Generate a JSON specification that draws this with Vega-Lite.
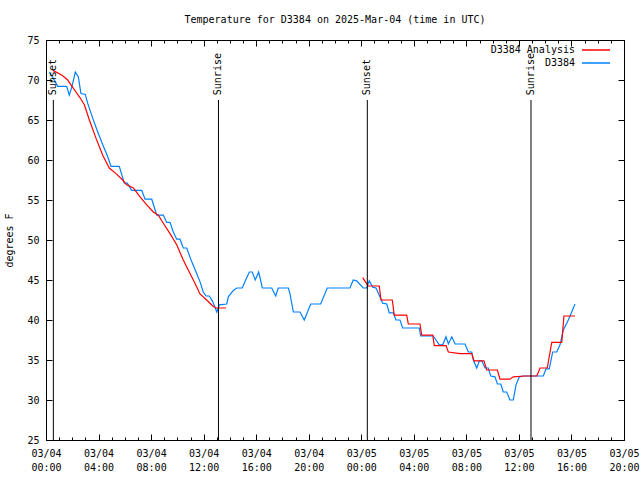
{
  "$schema": "https://vega.github.io/schema/vega-lite/v6.json",
  "width": 578,
  "height": 400,
  "autosize": {"type": "none"},
  "padding": {"left": 46, "top": 40, "right": 16, "bottom": 40},
  "background": "white",
  "title": {"text": "Temperature for D3384 on 2025-Mar-04 (time in UTC)", "font": "DejaVu Sans Mono", "fontSize": 10, "fontWeight": "normal", "offset": 10, "color": "black"},
  "config": {
    "view": {"stroke": "black", "strokeWidth": 1},
    "axis": {"domain": false, "grid": false, "labelFont": "DejaVu Sans Mono", "labelFontSize": 10, "labelColor": "black", "tickColor": "black", "tickWidth": 1, "titleFont": "DejaVu Sans Mono", "titleFontSize": 10, "titleFontWeight": "normal", "titleColor": "black", "labelFlush": false, "labelOverlap": false, "labelBound": false}
  },
  "datasets": {
    "temps": [
      {"series": "D3384", "seg": "b", "hour": 0.25, "temp": 71.0},
      {"series": "D3384", "seg": "b", "hour": 0.56, "temp": 70.2},
      {"series": "D3384", "seg": "b", "hour": 0.89, "temp": 69.2},
      {"series": "D3384", "seg": "b", "hour": 1.58, "temp": 69.2},
      {"series": "D3384", "seg": "b", "hour": 1.77, "temp": 68.1},
      {"series": "D3384", "seg": "b", "hour": 1.98, "temp": 69.2},
      {"series": "D3384", "seg": "b", "hour": 2.23, "temp": 71.0},
      {"series": "D3384", "seg": "b", "hour": 2.46, "temp": 70.4},
      {"series": "D3384", "seg": "b", "hour": 2.66, "temp": 68.3},
      {"series": "D3384", "seg": "b", "hour": 2.99, "temp": 68.2},
      {"series": "D3384", "seg": "b", "hour": 3.17, "temp": 67.1},
      {"series": "D3384", "seg": "b", "hour": 3.56, "temp": 65.2},
      {"series": "D3384", "seg": "b", "hour": 3.94, "temp": 63.5},
      {"series": "D3384", "seg": "b", "hour": 4.32, "temp": 61.9},
      {"series": "D3384", "seg": "b", "hour": 4.70, "temp": 60.4},
      {"series": "D3384", "seg": "b", "hour": 4.95, "temp": 59.2},
      {"series": "D3384", "seg": "b", "hour": 5.58, "temp": 59.2},
      {"series": "D3384", "seg": "b", "hour": 5.96, "temp": 57.1},
      {"series": "D3384", "seg": "b", "hour": 6.19, "temp": 57.1},
      {"series": "D3384", "seg": "b", "hour": 6.52, "temp": 56.2},
      {"series": "D3384", "seg": "b", "hour": 7.29, "temp": 56.2},
      {"series": "D3384", "seg": "b", "hour": 7.54, "temp": 55.1},
      {"series": "D3384", "seg": "b", "hour": 8.05, "temp": 55.1},
      {"series": "D3384", "seg": "b", "hour": 8.43, "temp": 53.1},
      {"series": "D3384", "seg": "b", "hour": 8.93, "temp": 53.1},
      {"series": "D3384", "seg": "b", "hour": 9.19, "temp": 52.2},
      {"series": "D3384", "seg": "b", "hour": 9.44, "temp": 52.2},
      {"series": "D3384", "seg": "b", "hour": 9.69, "temp": 51.0},
      {"series": "D3384", "seg": "b", "hour": 9.95, "temp": 50.1},
      {"series": "D3384", "seg": "b", "hour": 10.20, "temp": 50.1},
      {"series": "D3384", "seg": "b", "hour": 10.45, "temp": 49.0},
      {"series": "D3384", "seg": "b", "hour": 10.71, "temp": 49.0},
      {"series": "D3384", "seg": "b", "hour": 11.09, "temp": 47.3},
      {"series": "D3384", "seg": "b", "hour": 11.47, "temp": 45.8},
      {"series": "D3384", "seg": "b", "hour": 11.72, "temp": 44.8},
      {"series": "D3384", "seg": "b", "hour": 11.97, "temp": 43.5},
      {"series": "D3384", "seg": "b", "hour": 12.18, "temp": 43.0},
      {"series": "D3384", "seg": "b", "hour": 12.43, "temp": 43.0},
      {"series": "D3384", "seg": "b", "hour": 12.69, "temp": 42.3},
      {"series": "D3384", "seg": "b", "hour": 13.0, "temp": 41.0},
      {"series": "D3384", "seg": "b", "hour": 13.19, "temp": 41.9},
      {"series": "D3384", "seg": "b", "hour": 13.76, "temp": 42.0},
      {"series": "D3384", "seg": "b", "hour": 13.88, "temp": 42.9},
      {"series": "D3384", "seg": "b", "hour": 14.26, "temp": 43.7},
      {"series": "D3384", "seg": "b", "hour": 14.52, "temp": 44.0},
      {"series": "D3384", "seg": "b", "hour": 14.94, "temp": 44.0},
      {"series": "D3384", "seg": "b", "hour": 15.15, "temp": 44.8},
      {"series": "D3384", "seg": "b", "hour": 15.48, "temp": 46.0},
      {"series": "D3384", "seg": "b", "hour": 15.70, "temp": 46.0},
      {"series": "D3384", "seg": "b", "hour": 15.93, "temp": 45.0},
      {"series": "D3384", "seg": "b", "hour": 16.19, "temp": 46.0},
      {"series": "D3384", "seg": "b", "hour": 16.47, "temp": 44.0},
      {"series": "D3384", "seg": "b", "hour": 17.18, "temp": 44.0},
      {"series": "D3384", "seg": "b", "hour": 17.49, "temp": 43.0},
      {"series": "D3384", "seg": "b", "hour": 17.68, "temp": 44.0},
      {"series": "D3384", "seg": "b", "hour": 18.45, "temp": 44.0},
      {"series": "D3384", "seg": "b", "hour": 18.57, "temp": 43.3},
      {"series": "D3384", "seg": "b", "hour": 18.83, "temp": 41.0},
      {"series": "D3384", "seg": "b", "hour": 19.34, "temp": 41.0},
      {"series": "D3384", "seg": "b", "hour": 19.66, "temp": 40.0},
      {"series": "D3384", "seg": "b", "hour": 20.15, "temp": 42.0},
      {"series": "D3384", "seg": "b", "hour": 20.91, "temp": 42.0},
      {"series": "D3384", "seg": "b", "hour": 21.41, "temp": 44.0},
      {"series": "D3384", "seg": "b", "hour": 23.14, "temp": 44.0},
      {"series": "D3384", "seg": "b", "hour": 23.39, "temp": 45.0},
      {"series": "D3384", "seg": "b", "hour": 23.65, "temp": 44.9},
      {"series": "D3384", "seg": "b", "hour": 24.15, "temp": 44.0},
      {"series": "D3384", "seg": "b", "hour": 24.41, "temp": 44.0},
      {"series": "D3384", "seg": "b", "hour": 24.61, "temp": 44.9},
      {"series": "D3384", "seg": "b", "hour": 24.87, "temp": 44.1},
      {"series": "D3384", "seg": "b", "hour": 25.12, "temp": 44.0},
      {"series": "D3384", "seg": "b", "hour": 25.37, "temp": 43.1},
      {"series": "D3384", "seg": "b", "hour": 25.63, "temp": 42.1},
      {"series": "D3384", "seg": "b", "hour": 25.94, "temp": 42.0},
      {"series": "D3384", "seg": "b", "hour": 26.13, "temp": 40.9},
      {"series": "D3384", "seg": "b", "hour": 26.44, "temp": 40.9},
      {"series": "D3384", "seg": "b", "hour": 26.64, "temp": 40.0},
      {"series": "D3384", "seg": "b", "hour": 26.95, "temp": 40.0},
      {"series": "D3384", "seg": "b", "hour": 27.15, "temp": 39.0},
      {"series": "D3384", "seg": "b", "hour": 28.42, "temp": 39.0},
      {"series": "D3384", "seg": "b", "hour": 28.52, "temp": 38.0},
      {"series": "D3384", "seg": "b", "hour": 29.48, "temp": 38.0},
      {"series": "D3384", "seg": "b", "hour": 29.94, "temp": 36.9},
      {"series": "D3384", "seg": "b", "hour": 30.20, "temp": 36.9},
      {"series": "D3384", "seg": "b", "hour": 30.45, "temp": 37.9},
      {"series": "D3384", "seg": "b", "hour": 30.63, "temp": 37.0},
      {"series": "D3384", "seg": "b", "hour": 30.89, "temp": 37.9},
      {"series": "D3384", "seg": "b", "hour": 31.14, "temp": 37.0},
      {"series": "D3384", "seg": "b", "hour": 31.90, "temp": 37.0},
      {"series": "D3384", "seg": "b", "hour": 32.15, "temp": 36.0},
      {"series": "D3384", "seg": "b", "hour": 32.41, "temp": 36.0},
      {"series": "D3384", "seg": "b", "hour": 32.53, "temp": 35.0},
      {"series": "D3384", "seg": "b", "hour": 32.79, "temp": 34.0},
      {"series": "D3384", "seg": "b", "hour": 32.99, "temp": 34.9},
      {"series": "D3384", "seg": "b", "hour": 33.17, "temp": 34.9},
      {"series": "D3384", "seg": "b", "hour": 33.42, "temp": 34.0},
      {"series": "D3384", "seg": "b", "hour": 33.67, "temp": 34.0},
      {"series": "D3384", "seg": "b", "hour": 33.85, "temp": 33.0},
      {"series": "D3384", "seg": "b", "hour": 34.18, "temp": 32.9},
      {"series": "D3384", "seg": "b", "hour": 34.36, "temp": 32.0},
      {"series": "D3384", "seg": "b", "hour": 34.62, "temp": 32.0},
      {"series": "D3384", "seg": "b", "hour": 34.81, "temp": 31.0},
      {"series": "D3384", "seg": "b", "hour": 35.07, "temp": 31.0},
      {"series": "D3384", "seg": "b", "hour": 35.32, "temp": 30.0},
      {"series": "D3384", "seg": "b", "hour": 35.57, "temp": 30.0},
      {"series": "D3384", "seg": "b", "hour": 35.78, "temp": 31.9},
      {"series": "D3384", "seg": "b", "hour": 36.03, "temp": 32.9},
      {"series": "D3384", "seg": "b", "hour": 36.34, "temp": 33.0},
      {"series": "D3384", "seg": "b", "hour": 37.86, "temp": 33.0},
      {"series": "D3384", "seg": "b", "hour": 38.06, "temp": 33.9},
      {"series": "D3384", "seg": "b", "hour": 38.31, "temp": 33.9},
      {"series": "D3384", "seg": "b", "hour": 38.57, "temp": 36.0},
      {"series": "D3384", "seg": "b", "hour": 38.88, "temp": 36.0},
      {"series": "D3384", "seg": "b", "hour": 39.13, "temp": 36.9},
      {"series": "D3384", "seg": "b", "hour": 39.38, "temp": 38.75},
      {"series": "D3384", "seg": "b", "hour": 39.76, "temp": 40.0},
      {"series": "D3384", "seg": "b", "hour": 40.02, "temp": 41.0},
      {"series": "D3384", "seg": "b", "hour": 40.27, "temp": 42.0},
      {"series": "D3384 Analysis", "seg": "r1", "hour": 0.53, "temp": 71.2},
      {"series": "D3384 Analysis", "seg": "r1", "hour": 1.22, "temp": 70.6},
      {"series": "D3384 Analysis", "seg": "r1", "hour": 1.65, "temp": 70.0},
      {"series": "D3384 Analysis", "seg": "r1", "hour": 1.90, "temp": 69.4},
      {"series": "D3384 Analysis", "seg": "r1", "hour": 2.28, "temp": 68.5},
      {"series": "D3384 Analysis", "seg": "r1", "hour": 2.54, "temp": 67.9},
      {"series": "D3384 Analysis", "seg": "r1", "hour": 2.92, "temp": 66.9},
      {"series": "D3384 Analysis", "seg": "r1", "hour": 3.30, "temp": 65.0},
      {"series": "D3384 Analysis", "seg": "r1", "hour": 3.81, "temp": 62.7},
      {"series": "D3384 Analysis", "seg": "r1", "hour": 4.32, "temp": 60.6},
      {"series": "D3384 Analysis", "seg": "r1", "hour": 4.82, "temp": 59.0},
      {"series": "D3384 Analysis", "seg": "r1", "hour": 5.33, "temp": 58.3},
      {"series": "D3384 Analysis", "seg": "r1", "hour": 5.84, "temp": 57.5},
      {"series": "D3384 Analysis", "seg": "r1", "hour": 6.14, "temp": 56.9},
      {"series": "D3384 Analysis", "seg": "r1", "hour": 6.65, "temp": 56.5},
      {"series": "D3384 Analysis", "seg": "r1", "hour": 7.16, "temp": 55.4},
      {"series": "D3384 Analysis", "seg": "r1", "hour": 7.67, "temp": 54.4},
      {"series": "D3384 Analysis", "seg": "r1", "hour": 8.17, "temp": 53.5},
      {"series": "D3384 Analysis", "seg": "r1", "hour": 8.55, "temp": 53.1},
      {"series": "D3384 Analysis", "seg": "r1", "hour": 8.93, "temp": 52.1},
      {"series": "D3384 Analysis", "seg": "r1", "hour": 9.44, "temp": 50.8},
      {"series": "D3384 Analysis", "seg": "r1", "hour": 9.95, "temp": 49.4},
      {"series": "D3384 Analysis", "seg": "r1", "hour": 10.45, "temp": 47.5},
      {"series": "D3384 Analysis", "seg": "r1", "hour": 10.96, "temp": 45.8},
      {"series": "D3384 Analysis", "seg": "r1", "hour": 11.34, "temp": 44.6},
      {"series": "D3384 Analysis", "seg": "r1", "hour": 11.72, "temp": 43.25},
      {"series": "D3384 Analysis", "seg": "r1", "hour": 12.23, "temp": 42.5},
      {"series": "D3384 Analysis", "seg": "r1", "hour": 12.74, "temp": 41.7},
      {"series": "D3384 Analysis", "seg": "r1", "hour": 12.94, "temp": 41.5},
      {"series": "D3384 Analysis", "seg": "r1", "hour": 13.70, "temp": 41.5},
      {"series": "D3384 Analysis", "seg": "r2", "hour": 24.11, "temp": 45.3},
      {"series": "D3384 Analysis", "seg": "r2", "hour": 24.46, "temp": 44.4},
      {"series": "D3384 Analysis", "seg": "r2", "hour": 24.53, "temp": 44.25},
      {"series": "D3384 Analysis", "seg": "r2", "hour": 25.37, "temp": 44.25},
      {"series": "D3384 Analysis", "seg": "r2", "hour": 25.50, "temp": 42.5},
      {"series": "D3384 Analysis", "seg": "r2", "hour": 26.36, "temp": 42.5},
      {"series": "D3384 Analysis", "seg": "r2", "hour": 26.51, "temp": 40.6},
      {"series": "D3384 Analysis", "seg": "r2", "hour": 27.46, "temp": 40.6},
      {"series": "D3384 Analysis", "seg": "r2", "hour": 27.58, "temp": 39.5},
      {"series": "D3384 Analysis", "seg": "r2", "hour": 28.47, "temp": 39.5},
      {"series": "D3384 Analysis", "seg": "r2", "hour": 28.60, "temp": 38.1},
      {"series": "D3384 Analysis", "seg": "r2", "hour": 29.44, "temp": 38.1},
      {"series": "D3384 Analysis", "seg": "r2", "hour": 29.56, "temp": 36.8},
      {"series": "D3384 Analysis", "seg": "r2", "hour": 30.45, "temp": 36.8},
      {"series": "D3384 Analysis", "seg": "r2", "hour": 30.63, "temp": 36.0},
      {"series": "D3384 Analysis", "seg": "r2", "hour": 31.52, "temp": 35.8},
      {"series": "D3384 Analysis", "seg": "r2", "hour": 32.41, "temp": 35.8},
      {"series": "D3384 Analysis", "seg": "r2", "hour": 32.58, "temp": 34.9},
      {"series": "D3384 Analysis", "seg": "r2", "hour": 33.34, "temp": 34.9},
      {"series": "D3384 Analysis", "seg": "r2", "hour": 33.55, "temp": 33.75},
      {"series": "D3384 Analysis", "seg": "r2", "hour": 34.36, "temp": 33.75},
      {"series": "D3384 Analysis", "seg": "r2", "hour": 34.56, "temp": 32.6},
      {"series": "D3384 Analysis", "seg": "r2", "hour": 35.32, "temp": 32.6},
      {"series": "D3384 Analysis", "seg": "r2", "hour": 35.57, "temp": 32.9},
      {"series": "D3384 Analysis", "seg": "r2", "hour": 36.46, "temp": 33.0},
      {"series": "D3384 Analysis", "seg": "r2", "hour": 37.36, "temp": 33.0},
      {"series": "D3384 Analysis", "seg": "r2", "hour": 37.61, "temp": 34.0},
      {"series": "D3384 Analysis", "seg": "r2", "hour": 38.16, "temp": 34.0},
      {"series": "D3384 Analysis", "seg": "r2", "hour": 38.50, "temp": 37.2},
      {"series": "D3384 Analysis", "seg": "r2", "hour": 39.26, "temp": 37.2},
      {"series": "D3384 Analysis", "seg": "r2", "hour": 39.43, "temp": 40.5},
      {"series": "D3384 Analysis", "seg": "r2", "hour": 40.27, "temp": 40.5}
    ],
    "events": [
      {"hour": 0.56, "label": "Sunset"},
      {"hour": 13.13, "label": "Sunrise"},
      {"hour": 24.46, "label": "Sunset"},
      {"hour": 36.92, "label": "Sunrise"}
    ]
  },
  "layer": [
    {
      "data": {"name": "temps"},
      "transform": [{"filter": "datum.series == 'D3384'"}],
      "mark": {"type": "line", "strokeWidth": 1.2, "clip": true},
      "encoding": {
        "x": {"field": "hour", "type": "quantitative", "scale": {"domain": [0, 44], "nice": false, "zero": false},
          "axis": {"orient": "bottom", "title": null, "values": [0, 4, 8, 12, 16, 20, 24, 28, 32, 36, 40, 44], "tickSize": -6, "labelPadding": 14, "labelLineHeight": 14,
            "labelExpr": "[datum.value < 24 ? '03/04' : '03/05', (datum.value % 24 < 10 ? '0' : '') + (datum.value % 24) + ':00']"}},
        "y": {"field": "temp", "type": "quantitative", "scale": {"domain": [25, 75], "nice": false, "zero": false},
          "axis": {"orient": "left", "title": "degrees F", "values": [25, 30, 35, 40, 45, 50, 55, 60, 65, 70, 75], "tickSize": -6, "labelPadding": 13, "titlePadding": 12}},
        "color": {"field": "series", "type": "nominal",
          "scale": {"domain": ["D3384 Analysis", "D3384"], "range": ["#ff0000", "#0080ff"]},
          "legend": {"title": null, "orient": "none", "legendX": 445, "legendY": 2, "symbolType": "M-2,0L2,0", "symbolSize": 196, "symbolStrokeWidth": 1.5, "labelFont": "DejaVu Sans Mono", "labelFontSize": 10, "labelColor": "black", "labelAlign": "right", "labelOffset": -29, "symbolOffset": 97, "rowPadding": 0, "padding": 0, "labelLimit": 300}},
        "detail": {"field": "seg", "type": "nominal"}
      }
    },
    {
      "data": {"name": "temps"},
      "transform": [{"filter": "datum.series == 'D3384 Analysis'"}],
      "mark": {"type": "line", "strokeWidth": 1.2, "clip": true},
      "encoding": {
        "x": {"field": "hour", "type": "quantitative",
          "axis": {"orient": "bottom", "title": null, "labels": false, "values": [0,1,2,3,4,5,6,7,8,9,10,11,12,13,14,15,16,17,18,19,20,21,22,23,24,25,26,27,28,29,30,31,32,33,34,35,36,37,38,39,40,41,42,43,44], "tickSize": -3}},
        "y": {"field": "temp", "type": "quantitative",
          "axis": {"orient": "right", "title": null, "labels": false, "values": [25, 30, 35, 40, 45, 50, 55, 60, 65, 70, 75], "tickSize": -6}},
        "color": {"field": "series", "type": "nominal"},
        "detail": {"field": "seg", "type": "nominal"}
      }
    },
    {
      "data": {"name": "events"},
      "mark": {"type": "rule", "color": "black", "strokeWidth": 1},
      "encoding": {
        "x": {"field": "hour", "type": "quantitative",
          "axis": {"orient": "top", "title": null, "labels": false, "values": [0, 4, 8, 12, 16, 20, 24, 28, 32, 36, 40, 44], "tickSize": -6}},
        "y": {"datum": 67.5, "type": "quantitative", "axis": null},
        "y2": {"datum": 25}
      }
    },
    {
      "data": {"name": "events"},
      "mark": {"type": "text", "angle": 270, "align": "left", "baseline": "middle", "font": "DejaVu Sans Mono", "fontSize": 10, "color": "black"},
      "encoding": {
        "x": {"field": "hour", "type": "quantitative",
          "axis": {"orient": "top", "title": null, "labels": false, "values": [0,1,2,3,4,5,6,7,8,9,10,11,12,13,14,15,16,17,18,19,20,21,22,23,24,25,26,27,28,29,30,31,32,33,34,35,36,37,38,39,40,41,42,43,44], "tickSize": -3}},
        "y": {"datum": 68.1, "type": "quantitative", "axis": null},
        "text": {"field": "label"}
      }
    }
  ],
  "resolve": {"axis": {"x": "independent", "y": "independent"}}
}
